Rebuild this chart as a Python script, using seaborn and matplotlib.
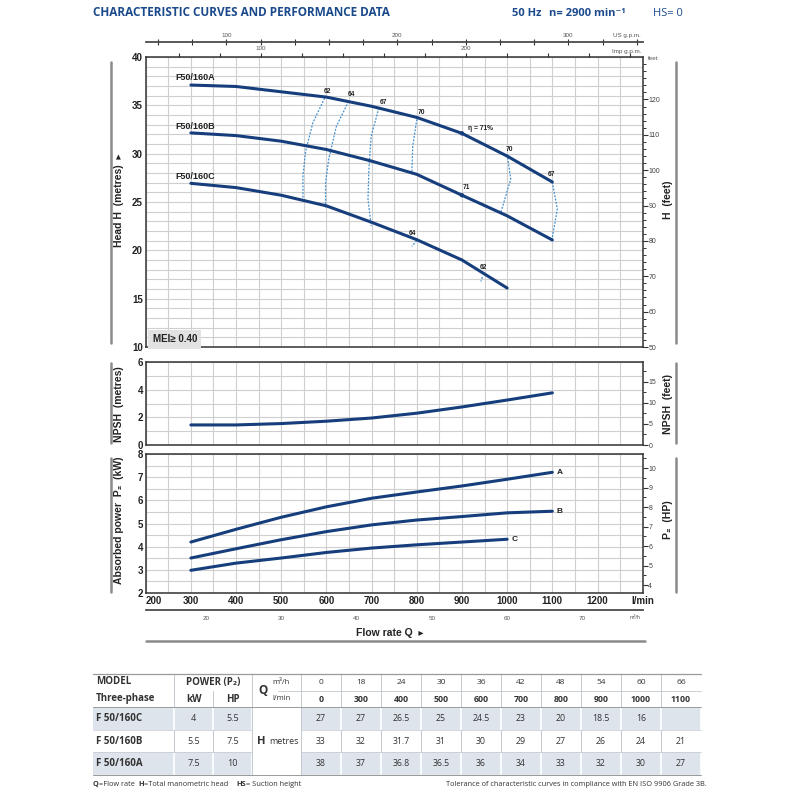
import numpy as np
import matplotlib
matplotlib.use("Agg")
import matplotlib.pyplot as plt
from matplotlib.patches import Rectangle
import seaborn as sns

# ---- curve data (flow rate in l/min) ----
q = [300, 400, 500, 600, 700, 800, 900, 1000, 1100]
q_c = [300, 400, 500, 600, 700, 800, 900, 1000]
head_a = [37.1, 36.95, 36.4, 35.85, 34.9, 33.75, 32.1, 29.75, 27.07]
head_b = [32.15, 31.87, 31.29, 30.43, 29.23, 27.86, 25.7, 23.57, 21.07]
head_c = [26.93, 26.49, 25.7, 24.6, 22.9, 21.1, 19.0, 16.1]
npsh = [1.45, 1.45, 1.55, 1.72, 1.95, 2.3, 2.75, 3.25, 3.77]
power_a = [4.2, 4.75, 5.27, 5.72, 6.09, 6.36, 6.62, 6.91, 7.21]
power_b = [3.51, 3.91, 4.3, 4.65, 4.94, 5.15, 5.3, 5.46, 5.53]
power_c = [2.98, 3.29, 3.51, 3.75, 3.94, 4.08, 4.2, 4.32]

# iso-efficiency lines (q, head)
eff62_q = [596, 570, 554, 548, 548]
eff62_h = [35.75, 33.2, 30.26, 27.7, 24.95]
eff64_q = [649, 622, 605, 598, 598]
eff64_h = [35.4, 32.83, 29.4, 27.0, 24.43]
eff67_q = [716, 699, 694, 692, 699]
eff67_h = [34.72, 31.8, 28.37, 25.3, 22.54]
eff70l_q = [800, 791, 789]
eff70l_h = [33.55, 30.77, 27.86]
eff70r_q = [1000, 1008, 986]
eff70r_h = [29.92, 27.35, 23.92]
eff67r_q = [1100, 1111, 1099]
eff67r_h = [27.07, 24.26, 21.07]
eff64c_q = [800, 789]
eff64c_h = [21.0, 20.42]
eff62c_q = [945, 942]
eff62c_h = [17.23, 16.78]
eff71_q = [900, 900]
eff71_h = [32.1, 25.7]

# ---- table data ----
tab_m3h = ["0", "18", "24", "30", "36", "42", "48", "54", "60", "66"]
tab_lmin = ["0", "300", "400", "500", "600", "700", "800", "900", "1000", "1100"]
models = ["F 50/160C", "F 50/160B", "F 50/160A"]
power_kw = ["4", "5.5", "7.5"]
power_hp = ["5.5", "7.5", "10"]
tab_h_c = ["27", "27", "26.5", "25", "24.5", "23", "20", "18.5", "16", ""]
tab_h_b = ["33", "32", "31.7", "31", "30", "29", "27", "26", "24", "21"]
tab_h_a = ["38", "37", "36.8", "36.5", "36", "34", "33", "32", "30", "27"]

navy = "#173e7c"
blue_txt = "#1b4a8c"
eff_col = "#3f8fd0"
grid_col = "#cfcfcf"
dark = "#222222"

sns.set_theme(style="white")
plt.rcParams["font.family"] = ["Liberation Sans", "DejaVu Sans"]
plt.rcParams["lines.solid_joinstyle"] = "round"
tfont = ["Open Sans", "DejaVu Sans"]

fig = plt.figure(figsize=(8, 8), dpi=100)


def rect(l, t, r, b):
    return [l / 800, 1 - b / 800, (r - l) / 800, (b - t) / 800]


L, R = 145.7, 642.7

# overlay in pixel coordinates for decorations and the table
deco = fig.add_axes([0, 0, 1, 1], zorder=-5)
deco.set_xlim(0, 800)
deco.set_ylim(800, 0)
deco.axis("off")


def base_panel(ax, ylim, yticks, yminor, show_x=False):
    ax.set_xlim(200, 1300)
    ax.set_ylim(*ylim)
    ax.set_xticks(range(200, 1301, 100))
    ax.set_xticks(range(250, 1300, 100), minor=True)
    ax.set_yticks(yticks)
    ax.set_yticks(yminor, minor=True)
    ax.set_yticklabels([str(v) for v in yticks], fontweight="bold", fontsize=7, color=dark)
    if show_x:
        labs = [str(v) for v in range(200, 1201, 100)] + ["l/min"]
        tl = ax.set_xticklabels(labs, fontweight="bold", fontsize=7, color=dark)
        tl[0].set_horizontalalignment("left")
    else:
        ax.set_xticklabels([])
    ax.tick_params(which="both", length=0, pad=2)
    ax.grid(True, which="both", color=grid_col, lw=0.8)
    for s in ax.spines.values():
        s.set_color("#333333")
        s.set_linewidth(1.1)
    ax.set_axisbelow(True)


def right_axis(ax, ylim, ticks, minor):
    ax.set_ylim(*ylim)
    ax.set_yticks(ticks)
    ax.set_yticks(minor, minor=True)
    ax.set_yticklabels([str(v) for v in ticks], fontsize=5, color="#444444")
    ax.tick_params(axis="y", which="major", direction="out", length=3.5, width=0.8, pad=0.5, color="#333333")
    ax.tick_params(axis="y", which="minor", direction="out", length=2, width=0.7, color="#333333")
    ax.grid(False)
    for s in ax.spines.values():
        s.set_visible(False)


# ---- head panel ----
ax_h = fig.add_axes(rect(L, 57, R, 347))
base_panel(ax_h, (10, 40), list(range(10, 41, 5)), list(range(10, 41, 1)))
for xs, ys in [(eff62_q, eff62_h), (eff64_q, eff64_h), (eff67_q, eff67_h),
               (eff70l_q, eff70l_h), (eff70r_q, eff70r_h), (eff67r_q, eff67r_h),
               (eff64c_q, eff64c_h), (eff62c_q, eff62c_h)]:
    sns.lineplot(x=xs, y=ys, ax=ax_h, sort=False, estimator=None, color=eff_col,
                 lw=0.9, linestyle=(0, (1.5, 1.2)))
for ys, xs in [(head_a, q), (head_b, q), (head_c, q_c)]:
    sns.lineplot(x=xs, y=ys, ax=ax_h, color=navy, lw=2.2)
sns.scatterplot(x=eff71_q, y=eff71_h, ax=ax_h, color=navy, s=10, edgecolor="none", zorder=5)

lab_kw = dict(fontsize=4.8, fontweight="bold", color=dark, ha="center", va="center")
for txt, x, y in [("62", 602, 36.43), ("64", 655, 36.1), ("67", 726, 35.3), ("70", 810, 34.24),
                  ("η = 71%", 942, 32.56), ("70", 1006, 30.43), ("67", 1099, 27.86),
                  ("71", 909, 26.49), ("64", 790, 21.69), ("62", 947, 18.19)]:
    ax_h.text(x, y, txt, **lab_kw)
for txt, y in [("F50/160A", 37.9), ("F50/160B", 32.83), ("F50/160C", 27.68)]:
    ax_h.text(266, y, txt, fontsize=6.5, fontweight="bold", color=dark, ha="left", va="center")
ax_h.text(0.014, 0.026, "MEI≥ 0.40", transform=ax_h.transAxes, fontsize=7, fontweight="bold",
          color=dark, va="center", bbox=dict(facecolor="#e2e2e2", edgecolor="none", pad=3))

ax_hr = ax_h.twinx()
right_axis(ax_hr, (50, 132), list(range(50, 121, 10)), list(range(50, 132, 2)))

# imperial gpm on top of head panel
ax_imp = ax_h.twiny()
ax_imp.set_xlim(200 / 4.54609, 1300 / 4.54609)
ax_imp.set_xticks([100, 200])
ax_imp.set_xticks(range(60, 286, 20), minor=True)
ax_imp.tick_params(axis="x", which="both", direction="out", length=3, width=0.8, labelsize=4.5,
                   pad=1, colors="#333333", labelcolor="#555555")
for s in ax_imp.spines.values():
    s.set_visible(False)

# US gpm scale above
ax_us = fig.add_axes(rect(L, 41.7, R, 42.7))
ax_us.set_xlim(200 / 3.78541, 1300 / 3.78541)
ax_us.set_xticks([100, 200, 300])
ax_us.set_xticks(range(60, 344, 20), minor=True)
ax_us.xaxis.tick_top()
ax_us.set_yticks([])
ax_us.tick_params(axis="x", which="both", direction="inout", length=4, width=0.8, labelsize=4.5,
                  pad=1, colors="#333333", labelcolor="#555555")
for k, s in ax_us.spines.items():
    s.set_visible(k == "top")
ax_us.spines["top"].set_color("#444444")
ax_us.patch.set_alpha(0)

# ---- NPSH panel ----
ax_n = fig.add_axes(rect(L, 362, R, 445))
base_panel(ax_n, (0, 6), [0, 2, 4, 6], list(range(0, 7)))
sns.lineplot(x=q, y=npsh, ax=ax_n, color=navy, lw=2.2)
ax_nr = ax_n.twinx()
right_axis(ax_nr, (0, 6 * 3.2808), [0, 5, 10, 15], list(np.arange(0, 19.7, 2.5)))

# ---- power panel ----
ax_p = fig.add_axes(rect(L, 454, R, 593))
base_panel(ax_p, (2, 8), list(range(2, 9)), list(np.arange(2, 8.01, 0.5)), show_x=True)
sns.lineplot(x=q, y=power_a, ax=ax_p, color=navy, lw=2.2)
sns.lineplot(x=q, y=power_b, ax=ax_p, color=navy, lw=2.2)
sns.lineplot(x=q_c, y=power_c, ax=ax_p, color=navy, lw=2.2)
for txt, x, y in [("A", 1110, power_a[-1]), ("B", 1110, power_b[-1]), ("C", 1010, power_c[-1])]:
    ax_p.text(x, y, txt, fontsize=6, fontweight="bold", color=dark, va="center")
ax_pr = ax_p.twinx()
right_axis(ax_pr, (3.59, 10.72), list(range(4, 11)), list(np.arange(4, 10.8, 0.5)))

# m3/h scale below
ax_m3 = fig.add_axes(rect(L, 609, R, 610))
ax_m3.set_xlim(12, 78)
ax_m3.set_xticks(range(20, 71, 10))
ax_m3.set_xticks(range(12, 79, 2), minor=True)
ax_m3.set_yticks([])
ax_m3.tick_params(axis="x", which="both", direction="inout", length=4, width=0.8, labelsize=4.5,
                  pad=2, colors="#333333", labelcolor="#555555")
for k, s in ax_m3.spines.items():
    s.set_visible(k == "bottom")
ax_m3.spines["bottom"].set_color("#444444")
ax_m3.patch.set_alpha(0)

# ---- axis titles and decorative bars ----
for y0, y1 in [(62, 343), (363, 443), (458, 592)]:
    deco.plot([111, 111], [y0, y1], color="#8a8a8a", lw=1.8)
    deco.plot([676, 676], [y0, y1], color="#8a8a8a", lw=1.8)
ttl = dict(fontsize=7.5, fontweight="bold", color=dark, rotation=90, ha="center", va="center")
deco.text(119, 200, "Head H  (metres)  ▸", **ttl)
deco.text(119, 404, "NPSH  (metres)", **ttl)
deco.text(119, 520, "Absorbed power  P₂  (kW)", **ttl)
deco.text(668, 200, "H  (feet)", **ttl)
deco.text(668, 404, "NPSH  (feet)", **ttl)
deco.text(668, 520, "P₂  (HP)", **ttl)
deco.text(648, 59, "feet", fontsize=4.5, color="#555555", va="center")
deco.text(641, 36, "US g.p.m.", fontsize=4.5, color="#555555", ha="right", va="center")
deco.text(641, 51, "Imp g.p.m.", fontsize=4.5, color="#555555", ha="right", va="center")
deco.text(641, 617.5, "m³/h", fontsize=4, color="#555555", ha="right", va="center")
deco.text(390, 633, "Flow rate Q  ▸", fontsize=7.5, fontweight="bold", color=dark, ha="center", va="center")
deco.plot([146, 645], [641, 641], color="#8a8a8a", lw=1.8)

# ---- header ----
deco.text(93, 13, "CHARACTERISTIC CURVES AND PERFORMANCE DATA", fontsize=8.5, fontweight="bold",
          color=blue_txt, family=tfont, va="center")
deco.text(512, 13, "50 Hz", fontsize=8, fontweight="bold", color=blue_txt, family=tfont, va="center")
deco.text(549, 13, "n= 2900 min⁻¹", fontsize=8, fontweight="bold", color=blue_txt, family=tfont, va="center")
deco.text(653, 13, "HS= 0", fontsize=8, color=blue_txt, family=tfont, va="center")

# ---- table ----
shade = "#dee4eb"
line_g = "#c4c9cf"
col_edges = [93.3, 174.3, 213.3, 252.3, 301] + [301 + 40 * (i + 1) for i in range(10)]
row_edges = [674.3, 690.5, 706.7, 730, 752.3, 775]
body_vals = [tab_h_c, tab_h_b, tab_h_a]
for r in (0, 2):
    y0, y1 = row_edges[2 + r], row_edges[3 + r]
    for c in range(len(col_edges) - 1):
        if c == 3:
            continue
        deco.add_patch(Rectangle((col_edges[c], y0), col_edges[c + 1] - col_edges[c], y1 - y0,
                                 facecolor=shade, edgecolor="none"))
        deco.plot([col_edges[c + 1]] * 2, [y0, y1], color="white", lw=1.2)
# header and row B verticals
for c, x in enumerate(col_edges[1:-1], start=1):
    top = row_edges[1] if c == 2 else row_edges[0]
    deco.plot([x, x], [top, row_edges[2]], color=line_g, lw=0.7)
    deco.plot([x, x], [row_edges[3], row_edges[4]], color=line_g, lw=0.7)
deco.plot([252.3, 252.3], [706.7, 775], color=line_g, lw=0.7)
deco.plot([301, 301], [706.7, 775], color=line_g, lw=0.7)
deco.plot([93.3, 701], [674.3, 674.3], color="#9a9a9a", lw=0.9)
deco.plot([93.3, 701], [706.7, 706.7], color="#9a9a9a", lw=0.7)
deco.plot([93.3, 701], [775, 775], color="#9a9a9a", lw=0.7)
deco.plot([278, 701], [690.5, 690.5], color=line_g, lw=0.6)
for y in (730, 752.3):
    deco.plot([93.3, 252.3], [y, y], color=line_g, lw=0.5)
    deco.plot([301, 701], [y, y], color=line_g, lw=0.5)

tk = dict(family=tfont, color="#333333", va="center")
deco.text(96, 682, "MODEL", fontsize=7, fontweight="bold", **tk)
deco.text(96, 699, "Three-phase", fontsize=7, fontweight="bold", **tk)
deco.text(213.3, 682, "POWER (P₂)", fontsize=7, fontweight="bold", ha="center", **tk)
deco.text(193.8, 699, "kW", fontsize=7, fontweight="bold", ha="center", **tk)
deco.text(232.8, 699, "HP", fontsize=7, fontweight="bold", ha="center", **tk)
deco.text(258, 690.5, "Q", fontsize=8.5, fontweight="bold", **tk)
deco.text(272, 682, "m³/h", fontsize=5.5, **tk)
deco.text(272, 699, "l/min", fontsize=5.5, **tk)
deco.text(257, 741.7, "H", fontsize=8, fontweight="bold", **tk)
deco.text(269, 741.7, "metres", fontsize=6.5, **tk)
for i in range(10):
    xc = 321 + 40 * i
    deco.text(xc, 682, tab_m3h[i], fontsize=6, ha="center", **tk)
    deco.text(xc, 699, tab_lmin[i], fontsize=6.3, fontweight="bold", ha="center", **tk)
for r in range(3):
    yc = (row_edges[2 + r] + row_edges[3 + r]) / 2
    deco.text(96, yc, models[r], fontsize=7, fontweight="bold", **tk)
    deco.text(193.8, yc, power_kw[r], fontsize=6.5, ha="center", **tk)
    deco.text(232.8, yc, power_hp[r], fontsize=6.5, ha="center", **tk)
    for i in range(10):
        deco.text(321 + 40 * i, yc, body_vals[r][i], fontsize=6.3, ha="center", **tk)

fk = dict(family=tfont, color="#333333", va="center", fontsize=5.3)
deco.text(93, 784.5, "Q", fontweight="bold", **fk)
deco.text(99, 784.5, "=Flow rate", **fk)
deco.text(138, 784.5, "H", fontweight="bold", **fk)
deco.text(143.5, 784.5, "=Total manometric head", **fk)
deco.text(236, 784.5, "HS", fontweight="bold", **fk)
deco.text(246, 784.5, "= Suction height", **fk)
deco.text(707, 784.5, "Tolerance of characteristic curves in compliance with EN ISO 9906 Grade 3B.",
          ha="right", **fk)

fig.savefig("out.png", dpi=100, facecolor="white")
